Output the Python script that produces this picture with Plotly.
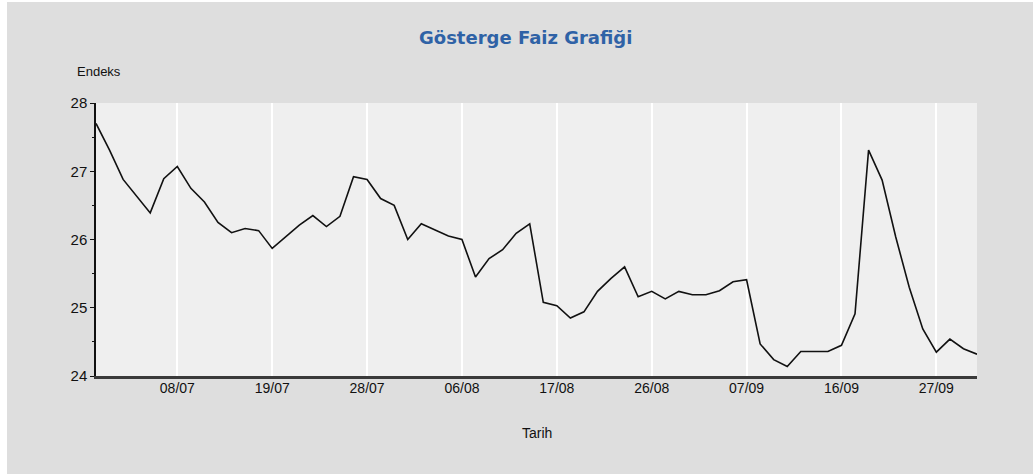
import plotly.graph_objects as go

dates = [
    "30/06", "01/07", "02/07", "05/07", "06/07", "07/07", "08/07", "09/07",
    "12/07", "13/07", "14/07", "15/07", "16/07", "19/07", "20/07", "21/07",
    "22/07", "23/07", "26/07", "27/07", "28/07", "29/07", "30/07", "02/08",
    "03/08", "04/08", "05/08", "06/08", "09/08", "10/08", "11/08", "12/08",
    "13/08", "16/08", "17/08", "18/08", "19/08", "20/08", "23/08", "24/08",
    "25/08", "26/08", "27/08", "31/08", "01/09", "02/09", "03/09", "06/09",
    "07/09", "08/09", "09/09", "10/09", "13/09", "14/09", "15/09", "16/09",
    "17/09", "20/09", "21/09", "22/09", "23/09", "24/09", "27/09", "28/09",
    "29/09", "30/09",
]

endeks = [
    27.70, 27.31, 26.88, 26.63, 26.39, 26.89, 27.07, 26.75, 26.55, 26.25,
    26.10, 26.16, 26.13, 25.87, 26.04, 26.21, 26.35, 26.19, 26.34, 26.92,
    26.88, 26.60, 26.50, 26.00, 26.23, 26.14, 26.05, 26.00, 25.45, 25.72,
    25.85, 26.09, 26.23, 25.08, 25.03, 24.85, 24.94, 25.24, 25.43, 25.60,
    25.16, 25.24, 25.13, 25.24, 25.19, 25.19, 25.25, 25.38, 25.41, 24.47,
    24.24, 24.14, 24.36, 24.36, 24.36, 24.45, 24.91, 27.31, 26.87, 26.04,
    25.30, 24.69, 24.35, 24.54, 24.40, 24.32,
]

tick_dates = ["08/07", "19/07", "28/07", "06/08", "17/08", "26/08", "07/09", "16/09", "27/09"]
y_ticks = [24, 25, 26, 27, 28]

title_text = "Gösterge Faiz Grafiği"
y_title = "Endeks"
x_title = "Tarih"

W, H = 1033, 474
L, R, T, B = 96, 56, 103, 98
PW, PH = W - L - R, H - T - B

fig = go.Figure()
fig.add_trace(go.Scatter(
    x=dates, y=endeks, mode="lines",
    line=dict(color="#111111", width=1.6),
    hoverinfo="x+y", showlegend=False,
))

fig.update_layout(
    width=W, height=H,
    margin=dict(l=L, r=R, t=T, b=B),
    paper_bgcolor="#ffffff",
    plot_bgcolor="#efefef",
    font=dict(family="Liberation Sans, Arial, sans-serif", size=13, color="#111111"),
    shapes=[
        dict(type="rect", xref="paper", yref="paper", layer="below",
             x0=(7 - L) / PW, x1=(W - L) / PW, y0=-B / PH, y1=(H - B - 2) / PH,
             fillcolor="#dedede", line=dict(width=0)),
        dict(type="rect", xref="paper", yref="paper", layer="below",
             x0=0, x1=1, y0=0, y1=1, fillcolor="#efefef", line=dict(width=0)),
    ],
    annotations=[
        dict(text=title_text, xref="paper", yref="paper", x=0.5 - 11.5 / PW, y=1,
             yshift=53, showarrow=False, xanchor="center", yanchor="bottom",
             font=dict(family="DejaVu Sans, Verdana, sans-serif", size=18, color="#2f62a6",
                       weight="bold")),
        dict(text=y_title, xref="paper", yref="paper", x=-21 / PW, y=1,
             yshift=22, showarrow=False, xanchor="left", yanchor="bottom",
             font=dict(size=13, color="#111111")),
        dict(text=x_title, xref="paper", yref="paper", x=0.5, y=0,
             yshift=-47, showarrow=False, xanchor="center", yanchor="top",
             font=dict(size=14, color="#111111")),
    ],
)

fig.update_xaxes(
    type="category",
    range=[0, len(dates) - 1],
    tickmode="array", tickvals=tick_dates, ticktext=tick_dates,
    showgrid=True, gridcolor="#ffffff", gridwidth=2,
    showline=True, linecolor="#3a3a3a", linewidth=3,
    ticks="", ticklabelstandoff=-3,
    tickfont=dict(size=14),
    zeroline=False,
)
fig.update_yaxes(
    range=[24, 28],
    tickmode="array", tickvals=y_ticks,
    showgrid=False,
    showline=True, linecolor="#111111", linewidth=1.5,
    ticks="outside", ticklen=4, tickwidth=1, tickcolor="#111111",
    minor=dict(tickvals=[24.5, 25.5, 26.5, 27.5], ticks="outside", ticklen=2,
               tickcolor="#111111", showgrid=False),
    tickfont=dict(size=15),
    zeroline=False,
)

fig.write_html("out.html", config={"displayModeBar": False},
               post_script="document.body.style.margin='0';")
